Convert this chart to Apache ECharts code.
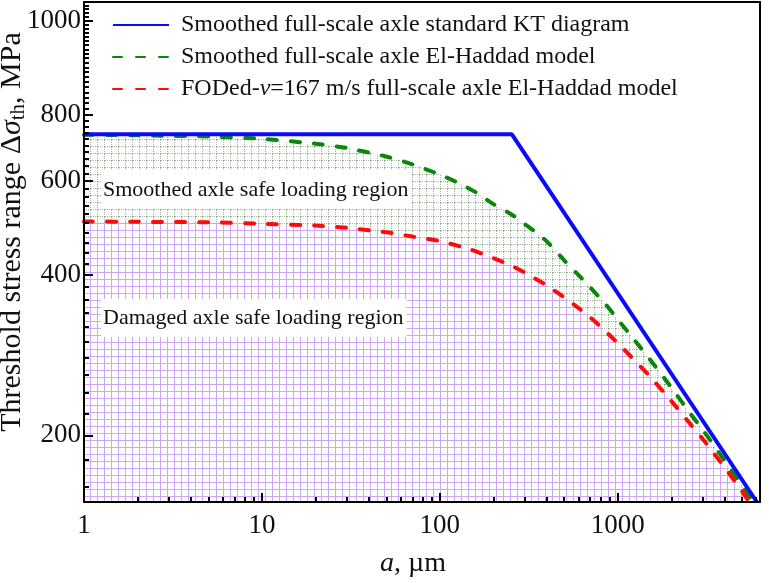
<!DOCTYPE html>
<html>
<head>
<meta charset="utf-8">
<script src="https://cdn.jsdelivr.net/npm/echarts@6/dist/echarts.min.js"></script>
<style>
  html, body { margin: 0; padding: 0; background: #fff; }
  #chart { width: 769px; height: 583px; }
</style>
</head>
<body>
<div id="chart"></div>
<script>
// KT diagram (solid blue)
const ktA = [1, 254, 6050];
const ktStress = [734, 734, 150];

// smoothed axle El-Haddad model (green dashed)
const smoothA = [1, 2, 5, 10, 20, 30, 50, 70, 100, 130, 160, 200, 254, 300, 350, 400, 500, 600, 700, 850, 1000, 1250, 1500, 2000, 2500, 3000, 4000, 5000, 5750];
const smoothStress = [733, 731, 727, 720, 705, 692, 667, 645, 617, 593, 571, 543, 519, 498, 480, 462, 426, 400, 379, 353, 330, 301, 279, 246, 222, 205, 179, 161, 150];

// FODed v=167 m/s El-Haddad model (red dashed)
const fodA = [1, 2, 5, 10, 20, 30, 50, 70, 100, 150, 200, 250, 300, 400, 500, 600, 700, 850, 1000, 1250, 1500, 2000, 2500, 3000, 4000, 5000, 5400];
const fodStress = [504, 503, 502, 499, 495, 490, 481, 472, 463, 446, 430, 417, 404, 382, 363, 347, 333, 314, 298, 276, 259, 232, 212, 197, 174, 157, 151];

const xMajorTicks = [1, 10, 100, 1000];
const xMinorTicks = [2, 3, 4, 5, 6, 7, 8, 9, 20, 30, 40, 50, 60, 70, 80, 90,
  200, 300, 400, 500, 600, 700, 800, 900, 2000, 3000, 4000, 5000, 6000];
const yTickValues = [200, 400, 600, 800, 1200];
const yTickLabels = ['200', '400', '600', '800', '1000'];
const yMinorTicks = [];
for (let v = 160; v <= 1280; v += 20) {
  if (yTickValues.indexOf(v) < 0) yMinorTicks.push(v);
}

const legendNames = [
  'Smoothed full-scale axle standard KT diagram',
  'Smoothed full-scale axle El-Haddad model',
  'FODed-{i|v}=167 m/s full-scale axle El-Haddad model'
];

const FONT = 'Liberation Serif';

function gridPattern(color, dotted) {
  const c = document.createElement('canvas');
  c.width = 7; c.height = 7;
  const ctx = c.getContext('2d');
  ctx.fillStyle = '#fff';
  ctx.fillRect(0, 0, 7, 7);
  ctx.fillStyle = color;
  for (let i = 0; i < 7; i++) {
    if (dotted && i % 2) continue;
    ctx.fillRect(6, i, 1, 1);
    ctx.fillRect(i, 6, 1, 1);
  }
  return { image: c, repeat: 'repeat' };
}

const zip = (xs, ys) => xs.map((x, i) => [x, ys[i]]);

const chart = echarts.init(document.getElementById('chart'));

const xBase = { type: 'log', logBase: 10, min: 1, max: 6300, gridIndex: 0, z: 10, splitLine: { show: false } };
const yBase = { type: 'log', logBase: 10, min: 150, max: 1300, gridIndex: 0, z: 10, splitLine: { show: false } };
const black = { color: '#000', width: 2 };

const option = {
  animation: false,
  grid: { left: 84, right: 9, top: 2, bottom: 81, containLabel: false, outerBoundsMode: 'none' },
  legend: {
    orient: 'vertical',
    left: 107,
    top: 8,
    itemWidth: 56,
    itemHeight: 8,
    itemGap: 8,
    data: legendNames,
    itemStyle: { color: 'rgba(0,0,0,0)', borderWidth: 0, opacity: 0 },
    textStyle: {
      fontFamily: FONT, fontSize: 24, color: '#111', padding: [0, 0, 0, 7],
      rich: { i: { fontFamily: FONT, fontSize: 24, fontStyle: 'italic', color: '#111' } }
    }
  },
  graphic: [
    {
      type: 'text', left: 101, top: 170, z: 20,
      style: {
        text: 'Smoothed axle safe loading region', fontFamily: FONT, fontSize: 22, fill: '#111',
        backgroundColor: '#fff', padding: [9, 3, 8, 2]
      }
    },
    {
      type: 'text', left: 101, top: 299, z: 20,
      style: {
        text: 'Damaged axle safe loading region', fontFamily: FONT, fontSize: 22, fill: '#111',
        backgroundColor: '#fff', padding: [8, 3, 8, 2]
      }
    }
  ],
  xAxis: [
    Object.assign({}, xBase, {
      position: 'bottom',
      name: '{i|a}{n|, µm}',
      nameLocation: 'middle',
      nameGap: 48,
      nameMoveOverlap: false,
      nameTextStyle: {
        padding: [0, 18, 0, 0],
        rich: {
          i: { fontFamily: FONT, fontSize: 28, fontStyle: 'italic', color: '#111' },
          n: { fontFamily: FONT, fontSize: 28, color: '#111' }
        }
      },
      axisLine: { show: true, lineStyle: black },
      axisTick: { show: true, inside: true, length: 9, lineStyle: black, customValues: xMajorTicks },
      axisLabel: {
        fontFamily: FONT, fontSize: 27, color: '#111', margin: 10, customValues: xMajorTicks,
        formatter: v => String(Math.round(v))
      }
    }),
    Object.assign({}, xBase, {
      position: 'bottom',
      axisLine: { show: false },
      axisTick: { show: true, inside: true, length: 5, lineStyle: black, customValues: xMinorTicks },
      axisLabel: { show: false }
    }),
    Object.assign({}, xBase, {
      position: 'top',
      axisLine: { show: true, lineStyle: black },
      axisTick: { show: false },
      axisLabel: { show: false }
    })
  ],
  yAxis: [
    Object.assign({}, yBase, {
      position: 'left',
      name: '{n|Threshold stress range Δ}{i|σ}{s|th}{n|, MPa}',
      nameLocation: 'middle',
      nameGap: 55,
      nameRotate: 90,
      nameMoveOverlap: false,
      nameTextStyle: {
        padding: [0, 0, 0, 40],
        rich: {
          n: { fontFamily: FONT, fontSize: 30, color: '#111', lineHeight: 34 },
          i: { fontFamily: FONT, fontSize: 30, fontStyle: 'italic', color: '#111', lineHeight: 34 },
          s: { fontFamily: FONT, fontSize: 21, color: '#111', lineHeight: 34, verticalAlign: 'bottom', padding: [12, 0, 0, 0] }
        }
      },
      axisLine: { show: true, lineStyle: black },
      axisTick: { show: true, inside: true, length: 9, lineStyle: black, customValues: yTickValues },
      axisLabel: {
        fontFamily: FONT, fontSize: 27, color: '#111', margin: 3, customValues: yTickValues,
        formatter: v => {
          let best = 0;
          yTickValues.forEach((t, i) => { if (Math.abs(t - v) < Math.abs(yTickValues[best] - v)) best = i; });
          return yTickLabels[best];
        }
      }
    }),
    Object.assign({}, yBase, {
      position: 'left',
      axisLine: { show: false },
      axisTick: { show: true, inside: true, length: 5, lineStyle: black, customValues: yMinorTicks },
      axisLabel: { show: false }
    }),
    Object.assign({}, yBase, {
      position: 'right',
      axisLine: { show: true, lineStyle: black },
      axisTick: { show: false },
      axisLabel: { show: false }
    })
  ],
  series: [
    {
      name: legendNames[1],
      type: 'line',
      z: 3,
      symbol: 'none',
      smooth: 0.2,
      data: zip(smoothA, smoothStress),
      lineStyle: { color: '#0a860a', width: 4, type: [9, 14], cap: 'round' },
      itemStyle: { color: '#0a860a' },
      areaStyle: { origin: 'start', opacity: 1, color: gridPattern('rgba(110,140,95,0.6)', true) }
    },
    {
      name: legendNames[2],
      type: 'line',
      z: 4,
      symbol: 'none',
      smooth: 0.2,
      data: zip(fodA, fodStress),
      lineStyle: { color: '#ff0a0a', width: 4, type: [9, 14], cap: 'round' },
      itemStyle: { color: '#ff0a0a' },
      areaStyle: { origin: 'start', opacity: 1, color: gridPattern('#cfa6f7', false) }
    },
    {
      name: legendNames[0],
      type: 'line',
      z: 5,
      symbol: 'none',
      data: zip(ktA, ktStress),
      lineStyle: { color: '#0a0aff', width: 4 },
      itemStyle: { color: '#0a0aff' }
    }
  ]
};

chart.setOption(option);
</script>
</body>
</html>
